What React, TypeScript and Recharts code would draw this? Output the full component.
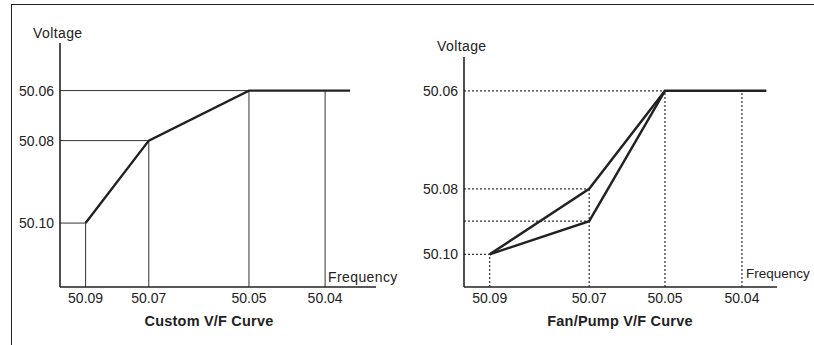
import { LineChart, Line, XAxis, YAxis, ReferenceLine } from "recharts";

// positions are in plot units (0-100 along each axis)
const FREQ_LABELS = ["50.09", "50.07", "50.05", "50.04"];

const CUSTOM_FREQ_TICKS = [8.1, 28.1, 59.8, 83.9];
const CUSTOM_VOLT_TICKS = [80.5, 60.0, 26.2];
const CUSTOM_VOLT_LABELS = ["50.06", "50.08", "50.10"];
const CUSTOM_CURVE_X = [8.1, 28.1, 59.8, 91.8];
const CUSTOM_CURVE_Y = [26.2, 60.0, 80.5, 80.5];

const FAN_FREQ_TICKS = [8.2, 40.0, 64.2, 88.8];
const FAN_VOLT_TICKS = [85.3, 42.7, 14.2];
const FAN_VOLT_LABELS = ["50.06", "50.08", "50.10"];
const FAN_UPPER_X = [8.2, 40.0, 64.2, 96.6];
const FAN_UPPER_Y = [14.2, 42.7, 85.3, 85.3];
const FAN_LOWER_X = [8.2, 40.0, 64.2];
const FAN_LOWER_Y = [14.2, 28.6, 85.3];

const zip = (xs: number[], ys: number[]) => xs.map((x, i) => ({ x, y: ys[i] }));

const INK = "#222";
const FONT = "'Liberation Sans', Arial, sans-serif";

interface Guide {
  x: number;
  y: number;
}

interface PanelProps {
  left: number;
  top: number;
  freqTicks: number[];
  voltTicks: number[];
  voltLabels: string[];
  curves: { x: number; y: number }[][];
  hGuides: Guide[];
  vGuides: Guide[];
  dashed: boolean;
}

const Panel = ({ left, top, freqTicks, voltTicks, voltLabels, curves, hGuides, vGuides, dashed }: PanelProps) => {
  const guideStyle = {
    stroke: "#333",
    strokeWidth: dashed ? 1.2 : 1,
    strokeDasharray: dashed ? "2 2" : undefined,
  };
  return (
    <LineChart
      width={410}
      height={345}
      margin={{ top, right: left === 0 ? 34 : 37, bottom: 28, left: 20 }}
      style={{ position: "absolute", left, top: 0 }}
    >
      <XAxis
        type="number"
        dataKey="x"
        domain={[0, 100]}
        allowDataOverflow
        ticks={freqTicks}
        interval={0}
        tickFormatter={(_v, i) => FREQ_LABELS[i]}
        tickLine={false}
        tickSize={4}
        tickMargin={2}
        height={30}
        axisLine={{ stroke: INK, strokeWidth: 1.6 }}
        tick={{ fill: INK, fontSize: 14 }}
      />
      <YAxis
        type="number"
        dataKey="y"
        domain={[0, 100]}
        allowDataOverflow
        ticks={voltTicks}
        interval={0}
        tickFormatter={(_v, i) => voltLabels[i]}
        tickLine={false}
        tickSize={4}
        tickMargin={2}
        width={40}
        axisLine={{ stroke: INK, strokeWidth: 1.6 }}
        tick={{ fill: INK, fontSize: 14 }}
      />
      {hGuides.map((g, i) => (
        <ReferenceLine
          key={`h${i}`}
          segment={[{ x: 0, y: g.y }, { x: g.x, y: g.y }]}
          {...guideStyle}
        />
      ))}
      {vGuides.map((g, i) => (
        <ReferenceLine
          key={`v${i}`}
          segment={[{ x: g.x, y: 0 }, { x: g.x, y: g.y }]}
          {...guideStyle}
        />
      ))}
      {curves.map((c, i) => (
        <Line
          key={i}
          data={c}
          dataKey="y"
          type="linear"
          stroke={INK}
          strokeWidth={2.4}
          dot={false}
          isAnimationActive={false}
        />
      ))}
    </LineChart>
  );
};

const text = (left: number, top: number, bold = false, spacing = 0.4) => ({
  position: "absolute" as const,
  left,
  top,
  fontSize: bold ? 14.5 : 14,
  lineHeight: "16px",
  fontWeight: bold ? 700 : 400,
  letterSpacing: bold ? 0.2 : spacing,
  color: INK,
  whiteSpace: "nowrap" as const,
});

const App = () => {
  const customTop = CUSTOM_CURVE_Y[2];
  const fanTop = FAN_UPPER_Y[2];
  return (
    <div
      style={{
        position: "absolute",
        left: 0,
        top: 0,
        width: 814,
        height: 345,
        overflow: "hidden",
        background: "#fff",
        fontFamily: FONT,
      }}
    >
      <div
        style={{
          position: "absolute",
          left: 11,
          top: 4,
          width: 820,
          height: 360,
          borderTop: `1.5px solid ${INK}`,
          borderLeft: `1.5px solid ${INK}`,
        }}
      />
      <Panel
        left={0}
        top={43}
        freqTicks={CUSTOM_FREQ_TICKS}
        voltTicks={CUSTOM_VOLT_TICKS}
        voltLabels={CUSTOM_VOLT_LABELS}
        curves={[zip(CUSTOM_CURVE_X, CUSTOM_CURVE_Y)]}
        hGuides={zip(CUSTOM_CURVE_X.slice(0, 3), CUSTOM_CURVE_Y.slice(0, 3))}
        vGuides={[
          ...zip(CUSTOM_CURVE_X.slice(0, 3), CUSTOM_CURVE_Y.slice(0, 3)),
          { x: CUSTOM_FREQ_TICKS[3], y: customTop },
        ]}
        dashed={false}
      />
      <Panel
        left={404}
        top={57}
        freqTicks={FAN_FREQ_TICKS}
        voltTicks={FAN_VOLT_TICKS}
        voltLabels={FAN_VOLT_LABELS}
        curves={[zip(FAN_UPPER_X, FAN_UPPER_Y), zip(FAN_LOWER_X, FAN_LOWER_Y)]}
        hGuides={[
          ...zip(FAN_UPPER_X.slice(0, 3), FAN_UPPER_Y.slice(0, 3)),
          { x: FAN_LOWER_X[1], y: FAN_LOWER_Y[1] },
        ]}
        vGuides={[
          ...zip(FAN_UPPER_X.slice(0, 3), FAN_UPPER_Y.slice(0, 3)),
          { x: FAN_FREQ_TICKS[3], y: fanTop },
        ]}
        dashed
      />
      <div style={text(33, 25)}>Voltage</div>
      <div style={text(437, 38)}>Voltage</div>
      <div style={text(328, 269)}>Frequency</div>
      <div style={{ ...text(746, 266, false, 0), fontSize: 13.5 }}>Frequency</div>
      <div style={{ ...text(109, 313, true), width: 200, textAlign: "center" }}>Custom V/F Curve</div>
      <div style={{ ...text(520, 313, true), width: 200, textAlign: "center" }}>Fan/Pump V/F Curve</div>
    </div>
  );
};

export default App;
